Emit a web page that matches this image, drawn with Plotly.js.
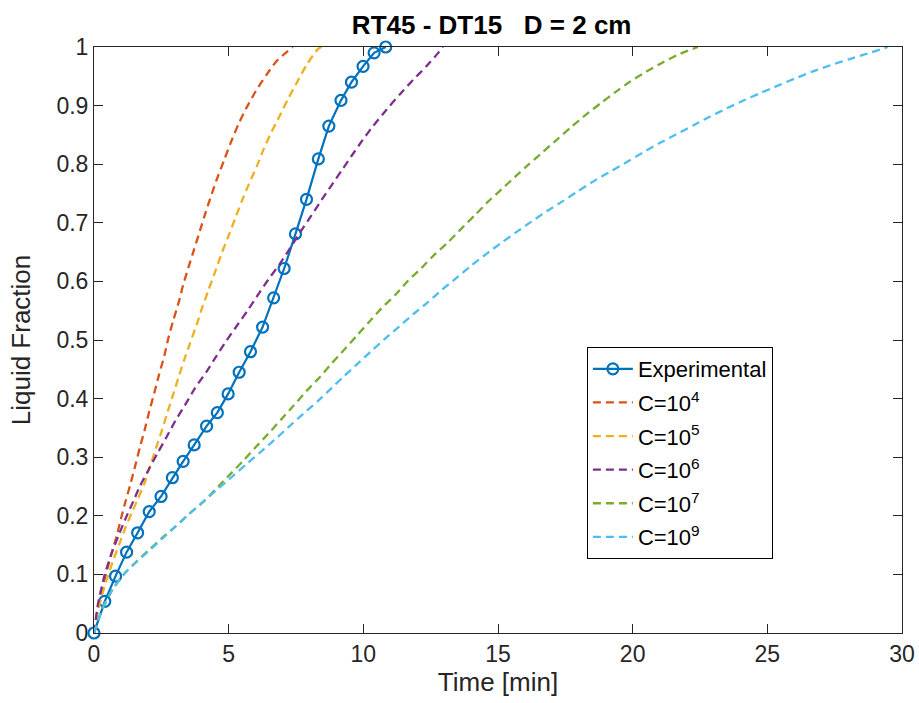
<!DOCTYPE html>
<html>
<head>
<meta charset="utf-8">
<script src="https://cdn.plot.ly/plotly-3.0.1.min.js"></script>
<style>html,body{margin:0;padding:0;background:#fff;}#chart{width:919px;height:703px;}</style>
</head>
<body>
<div id="chart"></div>
<script>
// Experimental data
const expX = [0, 0.40, 0.80, 1.21, 1.62, 2.05, 2.49, 2.91, 3.31, 3.72, 4.18, 4.58, 4.98, 5.39, 5.81, 6.26, 6.67, 7.06, 7.48, 7.89, 8.33, 8.72, 9.17, 9.56, 9.99, 10.40, 10.83];
const expY = [0, 0.054, 0.097, 0.138, 0.171, 0.207, 0.233, 0.265, 0.293, 0.321, 0.353, 0.376, 0.408, 0.445, 0.480, 0.522, 0.572, 0.622, 0.681, 0.740, 0.809, 0.865, 0.909, 0.940, 0.967, 0.990, 1.0];

// C = 10^4
const c4X = [0, 0.1, 0.3, 0.5, 0.66, 0.84, 1.0, 1.18, 1.37, 1.55, 1.71, 1.89, 2.05, 2.24, 2.41, 2.61, 2.76, 2.94, 3.15, 3.31, 3.5, 3.72, 3.93, 4.14, 4.37, 4.59, 4.84, 5.07, 5.36, 5.67, 6.01, 6.41, 6.78, 7.38];
const c4Y = [0, 0.03, 0.075, 0.11, 0.137, 0.165, 0.195, 0.226, 0.257, 0.289, 0.318, 0.348, 0.378, 0.41, 0.44, 0.473, 0.503, 0.533, 0.565, 0.594, 0.623, 0.655, 0.686, 0.717, 0.749, 0.778, 0.808, 0.836, 0.868, 0.897, 0.925, 0.953, 0.976, 1.0];

// C = 10^5
const c5X = [0, 0.1, 0.3, 0.5, 0.72, 0.95, 1.17, 1.4, 1.62, 1.87, 2.08, 2.29, 2.51, 2.70, 2.91, 3.13, 3.34, 3.56, 3.81, 4.0, 4.24, 4.51, 4.74, 4.98, 5.23, 5.48, 5.75, 6.04, 6.31, 6.59, 6.9, 7.21, 7.54, 7.89, 8.32, 8.45];
const c5Y = [0, 0.028, 0.065, 0.095, 0.125, 0.153, 0.18, 0.205, 0.228, 0.255, 0.284, 0.314, 0.344, 0.372, 0.403, 0.435, 0.465, 0.494, 0.526, 0.553, 0.584, 0.618, 0.648, 0.676, 0.706, 0.736, 0.766, 0.796, 0.827, 0.855, 0.883, 0.912, 0.940, 0.969, 0.997, 1.0];

// C = 10^6
const c6X = [0, 0.15, 0.4, 0.66, 0.90, 1.15, 1.46, 1.71, 2.04, 2.36, 2.70, 3.03, 3.38, 3.75, 4.18, 4.55, 4.92, 5.33, 5.73, 6.1, 6.47, 6.9, 7.27, 7.64, 8.08, 8.45, 8.82, 9.19, 9.56, 9.97, 10.36, 10.86, 11.35, 11.85, 12.34, 12.78, 12.95];
const c6Y = [0, 0.05, 0.1, 0.137, 0.165, 0.193, 0.225, 0.251, 0.280, 0.307, 0.335, 0.363, 0.389, 0.418, 0.446, 0.473, 0.499, 0.526, 0.552, 0.578, 0.603, 0.630, 0.656, 0.683, 0.713, 0.739, 0.764, 0.789, 0.814, 0.841, 0.865, 0.893, 0.919, 0.944, 0.967, 0.990, 1.0];

// C = 10^7
const c7X = [0, 0.3, 0.7, 1.2, 1.6, 2.0, 2.5, 3.01, 3.5, 4.09, 4.61, 5.08, 5.54, 6.0, 6.47, 6.96, 7.43, 7.89, 8.39, 8.82, 9.28, 9.75, 10.22, 10.67, 11.21, 11.66, 12.16, 12.65, 13.15, 13.64, 14.14, 14.63, 15.13, 15.62, 16.15, 16.67, 17.19, 17.73, 18.28, 18.84, 19.36, 19.91, 20.51, 21.13, 21.74, 22.42];
const c7Y = [0, 0.04, 0.075, 0.105, 0.123, 0.140, 0.161, 0.181, 0.202, 0.225, 0.250, 0.272, 0.294, 0.317, 0.340, 0.365, 0.389, 0.413, 0.437, 0.460, 0.483, 0.507, 0.531, 0.554, 0.578, 0.601, 0.623, 0.646, 0.667, 0.690, 0.713, 0.736, 0.757, 0.778, 0.800, 0.821, 0.842, 0.864, 0.885, 0.905, 0.923, 0.941, 0.958, 0.974, 0.988, 1.0];

// C = 10^9
const c9X = [0, 0.3, 0.7, 1.2, 1.6, 2.01, 2.51, 3.01, 3.48, 4.0, 4.55, 5.11, 5.63, 6.16, 6.69, 7.21, 7.77, 8.32, 8.73, 9.23, 9.75, 10.27, 10.8, 11.33, 11.85, 12.41, 12.9, 13.46, 14.01, 14.57, 15.13, 15.68, 16.24, 16.82, 17.41, 17.97, 18.59, 19.23, 19.83, 20.38, 21.0, 21.62, 22.24, 22.86, 23.48, 24.13, 24.77, 25.39, 26.01, 26.67, 27.35, 28.03, 28.73, 29.47];
const c9Y = [0, 0.04, 0.075, 0.105, 0.122, 0.139, 0.160, 0.181, 0.201, 0.222, 0.244, 0.266, 0.287, 0.308, 0.329, 0.351, 0.374, 0.396, 0.414, 0.436, 0.458, 0.480, 0.502, 0.523, 0.544, 0.565, 0.585, 0.606, 0.627, 0.647, 0.666, 0.684, 0.702, 0.720, 0.737, 0.754, 0.772, 0.789, 0.805, 0.820, 0.836, 0.851, 0.866, 0.881, 0.895, 0.909, 0.922, 0.934, 0.946, 0.958, 0.969, 0.979, 0.989, 1.0];

const names = ['Experimental', 'C=10<sup>4</sup>', 'C=10<sup>5</sup>', 'C=10<sup>6</sup>', 'C=10<sup>7</sup>', 'C=10<sup>9</sup>'];
const colors = ['#0072BD', '#D95319', '#EDB120', '#7E2F8E', '#77AC30', '#4DBEEE'];

const dashStyle = '8px,5px';
function dashed(x, y, i) {
  return {x: x, y: y, name: names[i], legendgroup: 'g' + i, type: 'scatter', mode: 'lines',
    line: {color: colors[i], width: 2.3, dash: dashStyle, shape: 'spline', smoothing: 0.6}};
}

const traces = [
  {x: expX, y: expY, name: names[0], legendgroup: 'g0', type: 'scatter', mode: 'lines+markers',
   line: {color: colors[0], width: 2.2},
   marker: {symbol: 'circle-open', size: 11, color: colors[0], line: {width: 2.2, color: colors[0]}},
   cliponaxis: false},
  dashed(c4X, c4Y, 1),
  dashed(c5X, c5Y, 2),
  dashed(c6X, c6Y, 3),
  dashed(c7X, c7Y, 4),
  dashed(c9X, c9Y, 5)
];

const fontFam = 'Liberation Sans, Arial, Helvetica, sans-serif';
const axisCommon = {
  showline: true, linecolor: '#262626', linewidth: 1, mirror: 'ticks',
  ticks: 'inside', ticklen: 9, tickwidth: 1, tickcolor: '#262626',
  showgrid: false, zeroline: false,
  tickfont: {family: fontFam, size: 23, color: '#262626'}
};

const layout = {
  width: 919, height: 703,
  margin: {l: 94, r: 16.5, t: 47, b: 69.5},
  paper_bgcolor: '#ffffff', plot_bgcolor: '#ffffff',
  font: {family: fontFam, color: '#262626'},
  title: {text: '<b>RT45 - DT15   D = 2 cm</b>', font: {family: fontFam, size: 26, color: '#000'},
    x: 0.535, xanchor: 'center', y: 0.964, yanchor: 'middle'},
  xaxis: Object.assign({}, axisCommon, {range: [0, 30], dtick: 5, tick0: 0,
    title: {text: 'Time [min]', font: {family: fontFam, size: 26, color: '#262626'}, standoff: 4}}),
  yaxis: Object.assign({}, axisCommon, {range: [0, 1], dtick: 0.1, tick0: 0,
    title: {text: 'Liquid Fraction', font: {family: fontFam, size: 26, color: '#262626'}, standoff: 18}}),
  showlegend: true,
  legend: {x: 0.61, y: 0.488, xanchor: 'left', yanchor: 'top',
    bgcolor: '#ffffff', bordercolor: '#000000', borderwidth: 1,
    font: {family: fontFam, size: 22, color: '#000'}, tracegroupgap: 2, itemwidth: 40}
};

Plotly.newPlot('chart', traces, layout, {displayModeBar: false, staticPlot: true});
</script>
</body>
</html>
